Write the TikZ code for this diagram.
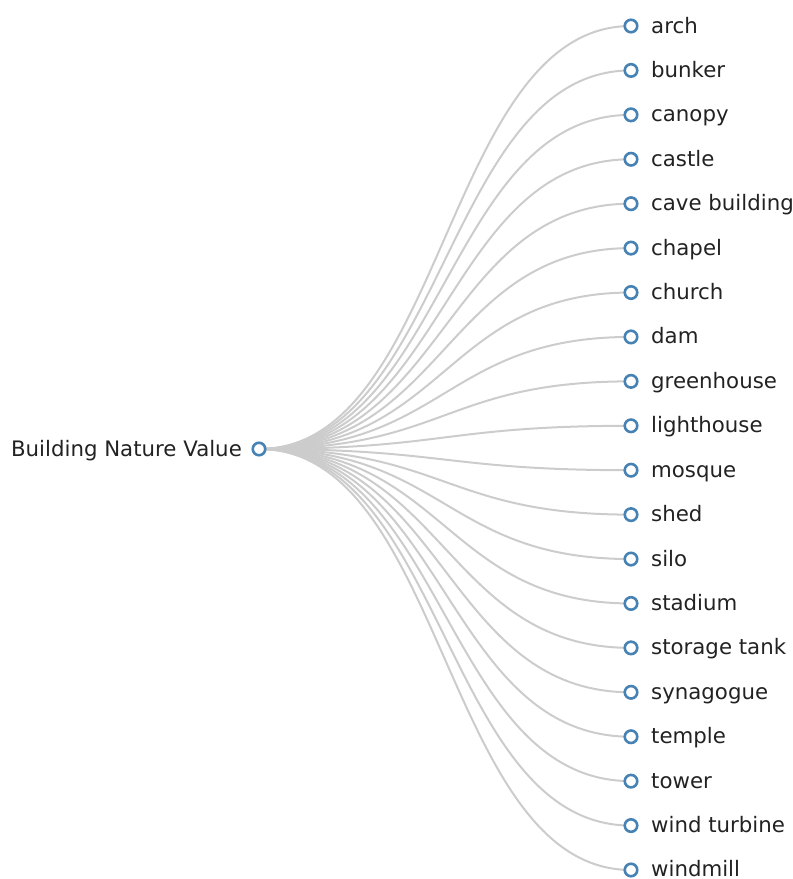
\documentclass[tikz,border=0pt]{standalone}
\usepackage{fontspec}
\setmainfont{DejaVu Sans}
\definecolor{nodeblue}{HTML}{4682B4}
\definecolor{linkgrey}{HTML}{CCCCCC}
\definecolor{txt}{HTML}{222222}
\tikzset{
  dot/.style={circle, draw=nodeblue, fill=white, line width=2.6pt, minimum size=12.5pt, inner sep=0pt},
  link/.style={draw=linkgrey, line width=2pt},
  lbl/.style={font=\fontsize{21.3}{25}\selectfont, text=txt, inner sep=0pt}
}
\begin{document}
\begin{tikzpicture}[x=1pt,y=-1pt]
\useasboundingbox (0,0) rectangle (793,879);
\coordinate (rootc) at (259,449);
\foreach \name [count=\i from 0] in {arch,bunker,canopy,castle,cave building,chapel,church,dam,greenhouse,lighthouse,mosque,shed,silo,stadium,storage tank,synagogue,temple,tower,wind turbine,windmill}{
  \pgfmathsetmacro{\yy}{26+\i*44.42}
  \pgfmathsetmacro{\by}{\yy+7}
  \coordinate (c\i) at (631,\yy);
  \draw[link] (rootc) .. controls (445,449) and (445,\yy) .. (c\i);
  \node[lbl, anchor=base west] (t\i) at (651,\by) {\name};
}
\foreach \i in {0,...,19}{
  \node[dot] (n\i) at (c\i) {};
}
\node[dot] (root) at (rootc) {};
\node[lbl, anchor=base east] (rootlabel) at (242,456) {Building Nature Value};
\end{tikzpicture}
\end{document}
